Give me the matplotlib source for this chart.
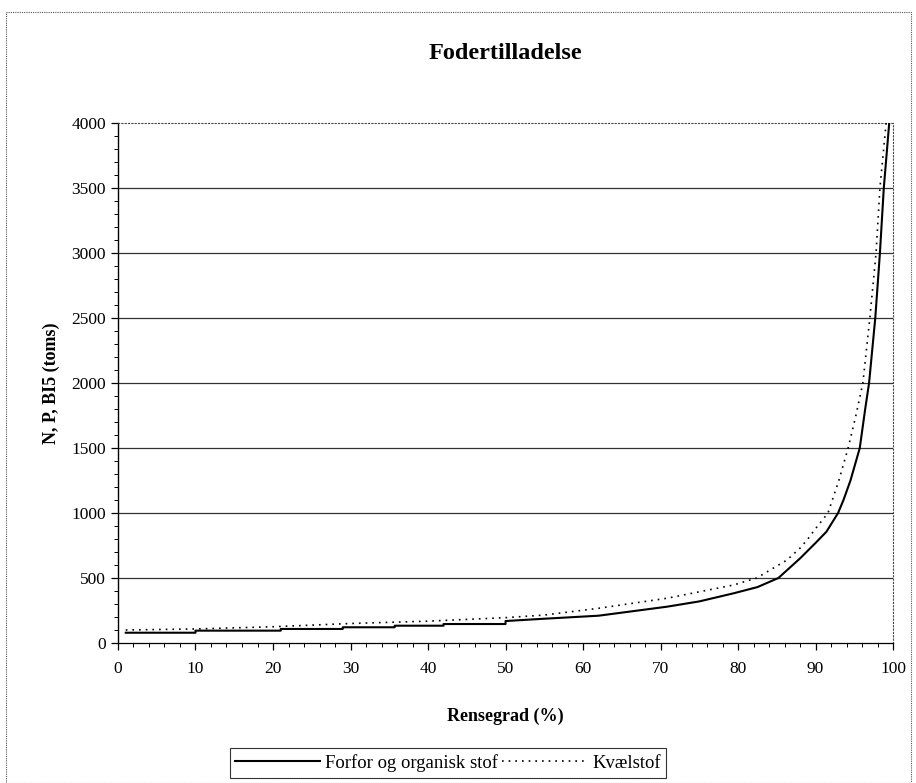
import matplotlib.pyplot as plt
from matplotlib.patches import Rectangle
from matplotlib.ticker import MultipleLocator

plt.rcParams['font.family'] = ['Liberation Serif', 'DejaVu Serif']

# Fosfor og organisk stof (solid line, stepped at low values)
fosfor_x = [1, 10, 10, 21, 21, 29, 29, 35.7, 35.7, 42, 42, 50, 50, 54.5, 62,
            70.8, 75, 79.4, 82.5, 85.2, 88, 90, 91.4, 92.9, 93.6, 94.5, 95.7,
            96.4, 96.9, 97.7, 98.3, 98.8, 99.5]
fosfor_y = [79, 79, 95, 95, 108, 108, 121, 121, 133, 133, 146, 146, 169, 185, 210,
            279, 320, 382, 430, 500, 651, 770, 856, 1000, 1100, 1250, 1500,
            1800, 2000, 2500, 3000, 3500, 4000]

# Kvaelstof (dotted line)
kvaelstof_x = [1, 10, 20, 30, 40, 50, 55, 62, 70.8, 79.4, 82.4, 86.3, 88, 89, 90,
               91.6, 93, 94.2, 95.2, 96.1, 97, 97.8, 98.3, 99.1]
kvaelstof_y = [100, 108, 125, 150, 168, 195, 215, 267, 344, 446, 500, 638, 730, 800, 880,
               1000, 1250, 1500, 1750, 2000, 2500, 3000, 3500, 4000]

fig = plt.figure(figsize=(9.16, 7.83), dpi=100)
ax = fig.add_axes([0.1288, 0.1788, 0.8462, 0.6641])

fig.patches.append(Rectangle((0.007, 0.0), 0.988, 0.985, transform=fig.transFigure,
                             fill=False, edgecolor='#555555', linewidth=0.8,
                             linestyle=(0, (1, 1))))

for v in range(500, 4000, 500):
    ax.axhline(v, color='#333333', linewidth=0.9, zorder=1)

ax.plot(fosfor_x, fosfor_y, color='black', linewidth=1.5, label='Forfor og organisk stof', zorder=3)
ax.plot(kvaelstof_x, kvaelstof_y, color='black', linewidth=1.2, linestyle=(0, (1, 3)),
        label='Kvælstof', zorder=3)

ax.set_xlim(0, 100)
ax.set_ylim(0, 4000)
ax.xaxis.set_major_locator(MultipleLocator(10))
ax.xaxis.set_minor_locator(MultipleLocator(2))
ax.yaxis.set_major_locator(MultipleLocator(500))
ax.yaxis.set_minor_locator(MultipleLocator(100))
ax.tick_params(axis='both', which='major', labelsize=12.5, length=5, width=0.9, direction='out')
ax.tick_params(axis='both', which='minor', length=3, width=0.7, direction='out')
ax.tick_params(axis='x', pad=8)

for side in ['top', 'right']:
    ax.spines[side].set_linestyle((0, (1, 2)))
    ax.spines[side].set_linewidth(0.8)
    ax.spines[side].set_color('#444444')
ax.spines['bottom'].set_linewidth(0.9)
ax.spines['left'].set_linewidth(1.0)

ax.set_title('Fodertilladelse', fontsize=17.5, fontweight='bold', pad=46)
ax.set_xlabel('Rensegrad (%)', fontsize=13, fontweight='bold', labelpad=22)
ax.set_ylabel('N, P, BI5 (toms)', fontsize=13, fontweight='bold', labelpad=8)

leg = fig.legend(loc='center', bbox_to_anchor=(0.489, 0.0255), ncol=2, fontsize=13.5,
                 frameon=True, fancybox=False, edgecolor='black', handlelength=4.5,
                 columnspacing=0.2, handletextpad=0.3, borderpad=0.3)
leg.get_frame().set_linewidth(0.8)

fig.savefig('out.png', dpi=100)
